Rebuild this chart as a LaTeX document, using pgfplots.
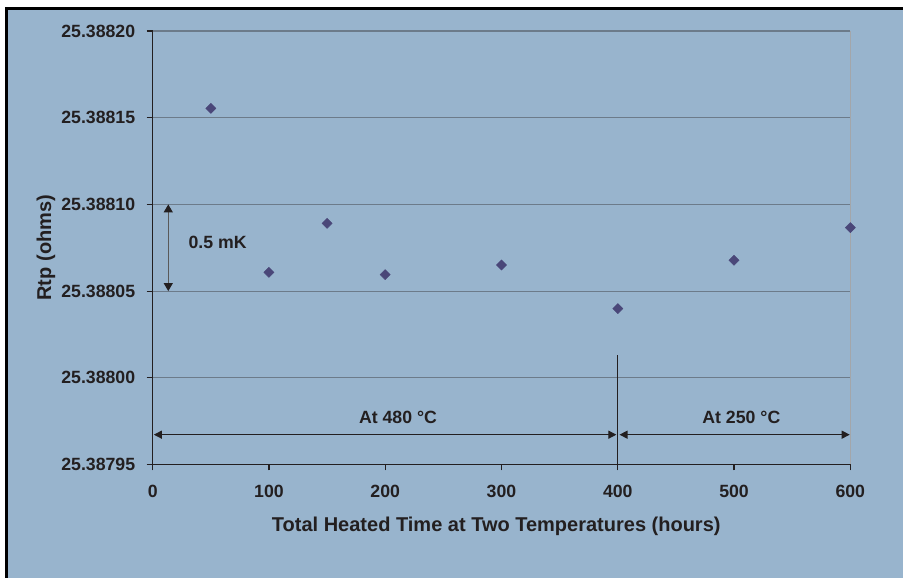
\documentclass[border=0pt]{standalone}
\usepackage{pgfplots}
\pgfplotsset{compat=1.18}
\usepackage{pgfplotstable}
\usepackage{fontspec}
\setmainfont{Liberation Sans}
\usetikzlibrary{arrows.meta}

\definecolor{chartbg}{HTML}{98B4CD}
\definecolor{ink}{HTML}{231F20}
\definecolor{gridc}{HTML}{6C7B8A}
\definecolor{edgec}{HTML}{A3A6AA}
\definecolor{markc}{HTML}{4A4779}

\newcommand{\ticksize}{\fontsize{17.7bp}{20bp}\selectfont\bfseries}
\newcommand{\titlesize}{\fontsize{20bp}{24bp}\selectfont\bfseries}

% Rtp minus 25.38795 ohm, in micro-ohm (keeps TeX arithmetic exact enough)
\pgfplotstableread{
hours dR
50  205.4
100 110.8
150 139.1
200 109.5
300 115.1
400 89.9
500 117.8
600 136.6
}\rtpdata

\begin{document}
\begin{tikzpicture}
\useasboundingbox (0,0) rectangle (903bp,578bp);
\fill[white] (0,0) rectangle (903bp,578bp);
\fill[chartbg] (5bp,0) rectangle (903bp,571bp);
\draw[black, line width=3bp, line join=miter] (6.5bp,0) -- (6.5bp,569.5bp) -- (903bp,569.5bp);
\begin{axis}[
    at={(152.7bp,113.5bp)}, anchor=south west,
    scale only axis, width=697.6bp, height=433.5bp,
    xmin=0, xmax=600, ymin=0, ymax=250,
    xtick={0,100,...,600}, ytick={0,50,...,250},
    yticklabels={25.38795,25.38800,25.38805,25.38810,25.38815,25.38820},
    axis x line*=bottom, axis y line*=left,
    axis line style={-, draw=ink, line width=1.3bp},
    tick align=outside, major tick length=6bp,
    tick style={draw=ink, line width=1.1bp},
    ymajorgrids, major grid style={draw=gridc, line width=1.1bp},
    /pgf/number format/assume math mode=true,
    tick label style={font=\ticksize, text=ink},
    xticklabel style={yshift=-11.5bp},
    yticklabel style={xshift=-8bp},
    label style={font=\titlesize, text=ink},
    xlabel={Total Heated Time at Two Temperatures (hours)},
    ylabel={Rtp (ohms)},
    xlabel style={at={(axis description cs:0.4925,-0.1420)}, anchor=center},
    ylabel style={at={(axis description cs:-0.1530,0.5)}, anchor=center},
    clip=false,
]
\draw[edgec, line width=1.3bp] (axis cs:600,0) -- (axis cs:600,250);
\addplot[only marks, mark=square*, mark size=3.6bp,
    mark options={rotate=45, fill=markc, draw=markc}]
    table[x=hours, y=dR] {\rtpdata};
% 0.5 mK span
\draw[draw=black!65, line width=1.2bp,
    {Triangle[length=8bp,width=9bp,color=ink]}-{Triangle[length=8bp,width=9bp,color=ink]}]
    (axis cs:13.4,150) -- (axis cs:13.4,100);
\node[font=\ticksize, text=ink] at (axis cs:55.8,128.3) {0.5 mK};
% temperature periods
\draw[ink, line width=1.2bp] (axis cs:400,63.1) -- (axis cs:400,0);
\draw[ink, line width=1.2bp,
    {Triangle[length=8bp,width=8bp]}-{Triangle[length=8bp,width=8bp]}]
    (axis cs:1,17.2) -- (axis cs:398.8,17.2);
\draw[ink, line width=1.2bp,
    {Triangle[length=8bp,width=8bp]}-{Triangle[length=8bp,width=8bp]}]
    (axis cs:401.5,17.2) -- (axis cs:599.5,17.2);
\node[font=\ticksize, text=ink] at (axis cs:211,27.2) {At 480 °C};
\node[font=\ticksize, text=ink] at (axis cs:506.3,27.2) {At 250 °C};
\end{axis}
\end{tikzpicture}
\end{document}
